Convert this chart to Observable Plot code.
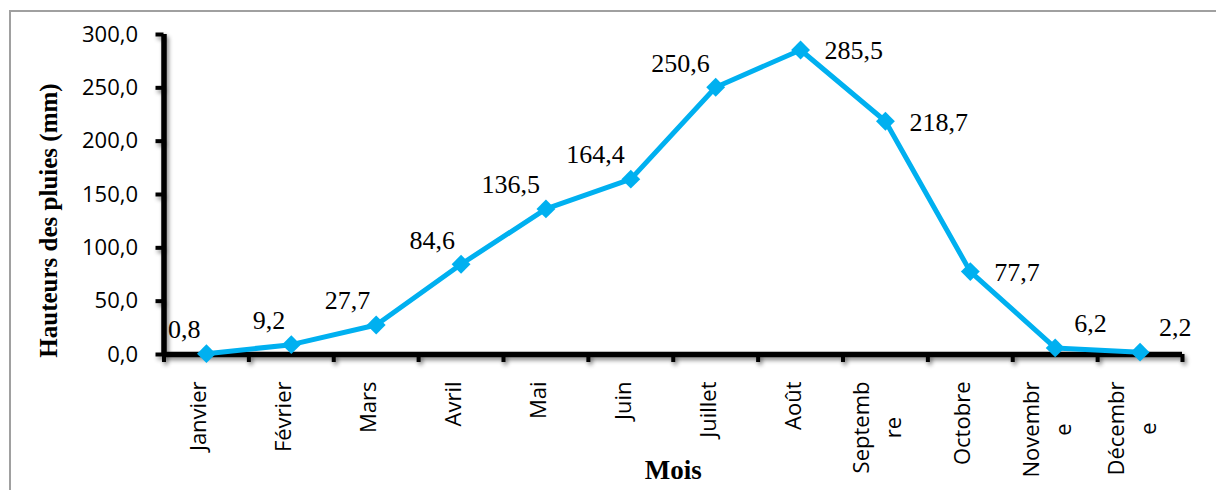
<!DOCTYPE html>
<html>
<head>
<meta charset="utf-8">
<script src="https://cdn.jsdelivr.net/npm/d3@7"></script>
<script src="https://cdn.jsdelivr.net/npm/@observablehq/plot@0.6"></script>
<style>
  html, body { margin: 0; padding: 0; background: white; }
  #wrap { position: relative; width: 1216px; height: 490px; overflow: hidden; }
  #border { position: absolute; left: 9px; top: 10px; width: 1220px; height: 500px;
            border-top: 2px solid #a0a0a0; border-left: 2px solid #a0a0a0; pointer-events: none; }
</style>
</head>
<body>
<div id="wrap"><div id="border"></div></div>
<script>
const months = ["Janvier", "Février", "Mars", "Avril", "Mai", "Juin", "Juillet", "Août",
                "Septemb\nre", "Octobre", "Novembr\ne", "Décembr\ne"];
const rainfall = [0.8, 9.2, 27.7, 84.6, 136.5, 164.4, 250.6, 285.5, 218.7, 77.7, 6.2, 2.2];
const yTicks = [0, 50, 100, 150, 200, 250, 300];
const yTitle = "Hauteurs des pluies (mm)";
const xTitle = "Mois";

const fmt = v => v.toFixed(1).replace(".", ",");
const data = months.map((m, i) => {
  const lines = m.split("\n");
  return { month: m, line1: lines[0], line2: lines[1] || null, pos: i + 0.5, value: rainfall[i], i };
});
const bandEdges = d3.range(0, months.length + 1);

const leftLabels = data.filter(d => d.i <= 6);
const rightLabels = data.filter(d => d.i >= 7 && d.i <= 9);
const upRightLabels = data.filter(d => d.i >= 10);
const singleMonths = data.filter(d => !d.line2);
const multiMonths = data.filter(d => d.line2);

const serif = "'Liberation Serif', 'Times New Roman', serif";
const sans = "'Open Sans', 'Noto Sans', sans-serif";
const blue = "#00B0F0";
const ink1 = "#000001"; // tags for the two lines of wrapped month labels
const ink2 = "#000002";

const svg = Plot.plot({
  width: 1216,
  height: 490,
  marginLeft: 163.5,
  marginRight: 34,
  marginTop: 34,
  marginBottom: 136,
  style: { background: "transparent", overflow: "visible" },
  x: { domain: [0, months.length], axis: null, label: null },
  y: { domain: [0, 300], axis: null, label: null },
  marks: [
    Plot.axisY(yTicks, { tickSize: 8, strokeWidth: 4, tickPadding: 18, tickFormat: fmt, label: null,
                         fontSize: 22, fontFamily: sans, fill: "black" }),
    Plot.axisX(bandEdges, { tickSize: 8, strokeWidth: 4, tickFormat: () => "", label: null }),
    Plot.ruleX([0], { y1: 0, y2: 300, strokeWidth: 5.5, stroke: "black" }),
    Plot.ruleY([0], { x1: 0, x2: months.length, strokeWidth: 5.5, stroke: "black" }),
    Plot.line(data, { x: "pos", y: "value", stroke: blue, strokeWidth: 5 }),
    Plot.dot(data, { x: "pos", y: "value", symbol: "diamond2", r: 8.5, fill: blue }),
    Plot.text(leftLabels, { x: "pos", y: "value", text: d => fmt(d.value), textAnchor: "end",
                            dx: -6, dy: -24, fontSize: 26, fontFamily: serif, fill: "black" }),
    Plot.text(rightLabels, { x: "pos", y: "value", text: d => fmt(d.value), textAnchor: "start",
                             dx: 24, dy: 1, fontSize: 26, fontFamily: serif, fill: "black" }),
    Plot.text(upRightLabels, { x: "pos", y: "value", text: d => fmt(d.value), textAnchor: "start",
                               dx: 19, dy: -24, fontSize: 26, fontFamily: serif, fill: "black" }),
    // month labels, rotated
    Plot.text(singleMonths, { x: "pos", frameAnchor: "bottom", text: "line1", rotate: -90, textAnchor: "end",
                              dy: 27, fontSize: 22, fontFamily: sans, fill: "black" }),
    Plot.text(multiMonths, { x: "pos", frameAnchor: "bottom", text: "line1", rotate: -90, textAnchor: "end",
                             dx: -16, dy: 27, fontSize: 22, fontFamily: sans, fill: ink1 }),
    Plot.text(multiMonths, { x: "pos", frameAnchor: "bottom", text: "line2", rotate: -90, textAnchor: "middle",
                             dx: 16, dy: 27, fontSize: 22, fontFamily: sans, fill: ink2 }),
    Plot.text([yTitle], { frameAnchor: "left", textAnchor: "middle", rotate: -90, dx: -115.5, dy: 26,
                          fontSize: 25, fontWeight: "bold", fontFamily: serif, fill: "black" }),
    Plot.text([xTitle], { frameAnchor: "bottom", textAnchor: "middle", dy: 124, fontSize: 27,
                          fontWeight: "bold", fontFamily: serif, fill: "black" })
  ]
});

const wrap = document.getElementById("wrap");
svg.style.position = "absolute";
svg.style.left = "0px";
svg.style.top = "0px";
wrap.insertBefore(svg, wrap.firstChild);

const shadow = "drop-shadow(2px 3px 2px rgba(0,0,0,0.45))";
svg.querySelectorAll('g[aria-label="rule"], g[aria-label="y-axis tick"], g[aria-label="x-axis tick"]')
  .forEach(g => { g.style.filter = shadow; });

// Excel centres the wrapped second line on the first line of a rotated label
const firsts = Array.from(svg.querySelectorAll(`g[fill="${ink1}"] text`));
const seconds = Array.from(svg.querySelectorAll(`g[fill="${ink2}"] text`));
seconds.forEach((el, k) => {
  const L = firsts[k] ? firsts[k].getComputedTextLength() : 0;
  const t = el.getAttribute("transform") || "";
  el.setAttribute("transform", t + ` translate(${-L / 2},0)`);
});
</script>
</body>
</html>
